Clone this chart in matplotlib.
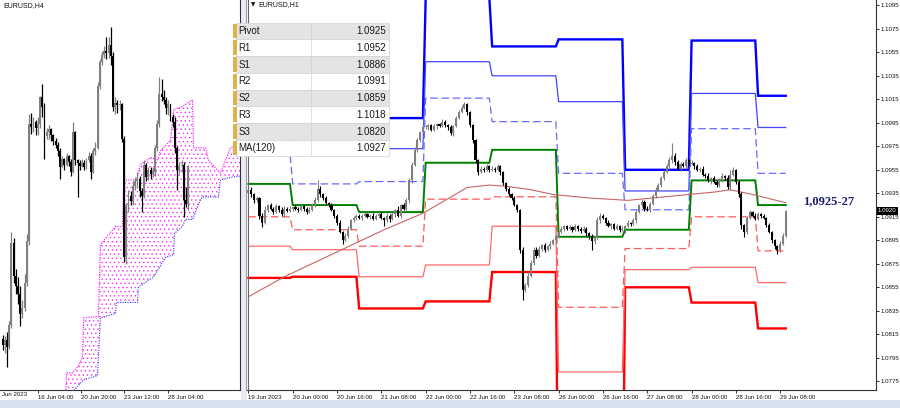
import numpy as np
import matplotlib
matplotlib.use("Agg")
import matplotlib.pyplot as plt
from matplotlib.patches import Rectangle, Polygon
from matplotlib import font_manager

W, H = 900, 408
_names = {f.name for f in font_manager.fontManager.ttflist}
NARROW = 'Liberation Sans Narrow' if 'Liberation Sans Narrow' in _names else 'Liberation Sans'

# ---------------- H4 panel (EURUSD,H4) ----------------
h4_open0 = 1.0790
h4_close = [1.0786, 1.0789, 1.0784, 1.0800, 1.0858, 1.0835, 1.0828, 1.0822, 1.0808, 1.0812,
            1.0830, 1.0860, 1.0943, 1.0941, 1.0944, 1.0940, 1.0943, 1.0962, 1.0955, 1.0934,
            1.0937, 1.0939, 1.0935, 1.0931, 1.0928, 1.0924, 1.0912, 1.0918, 1.0914, 1.0920,
            1.0916, 1.0909, 1.0937, 1.0917, 1.0915, 1.0913, 1.0915, 1.0912, 1.0917, 1.0920,
            1.0909, 1.0924, 1.0926, 1.0970, 1.0987, 1.0992, 1.0995, 1.0993, 1.0999, 1.0991,
            1.0955, 1.0958, 1.0956, 1.0957, 1.0932, 1.0848, 1.0885, 1.0892, 1.0888, 1.0899,
            1.0902, 1.0904, 1.0895, 1.0892, 1.0914, 1.0905, 1.0910, 1.0907, 1.0909, 1.0926,
            1.0943, 1.0964, 1.0962, 1.0960, 1.0954, 1.0957, 1.0948, 1.0944, 1.0926, 1.0910,
            1.0913, 1.0914, 1.0889, 1.0886, 1.0912]
h4_high = [1.0793, 1.0792, 1.0795, 1.0803, 1.0866, 1.0862, 1.0840, 1.0834, 1.0828, 1.0818,
           1.0836, 1.0865, 1.0950, 1.0951, 1.0948, 1.0946, 1.0948, 1.0963, 1.0971, 1.0958,
           1.0940, 1.0942, 1.0940, 1.0936, 1.0933, 1.0930, 1.0926, 1.0920, 1.0919, 1.0922,
           1.0921, 1.0918, 1.0944, 1.0938, 1.0918, 1.0917, 1.0918, 1.0917, 1.0919, 1.0923,
           1.0922, 1.0926, 1.0930, 1.0973, 1.0989, 1.0995, 1.0998, 1.1005, 1.1005, 1.1012,
           1.0994, 1.0962, 1.0960, 1.0960, 1.0958, 1.0934, 1.0887, 1.0896, 1.0895, 1.0902,
           1.0905, 1.0909, 1.0906, 1.0897, 1.0917, 1.0915, 1.0912, 1.0912, 1.0912, 1.0928,
           1.0946, 1.0976, 1.0975, 1.0967, 1.0962, 1.0960, 1.0957, 1.0950, 1.0948, 1.0927,
           1.0916, 1.0917, 1.0916, 1.0898, 1.0914]
h4_low = [1.0782, 1.0780, 1.0770, 1.0783, 1.0798, 1.0830, 1.0822, 1.0815, 1.0799, 1.0805,
          1.0810, 1.0828, 1.0857, 1.0936, 1.0937, 1.0935, 1.0935, 1.0940, 1.0948, 1.0918,
          1.0932, 1.0932, 1.0931, 1.0928, 1.0926, 1.0920, 1.0904, 1.0912, 1.0910, 1.0913,
          1.0913, 1.0906, 1.0908, 1.0914, 1.0891, 1.0910, 1.0912, 1.0910, 1.0911, 1.0916,
          1.0904, 1.0908, 1.0921, 1.0925, 1.0968, 1.0985, 1.0990, 1.0989, 1.0990, 1.0985,
          1.0952, 1.0950, 1.0951, 1.0953, 1.0930, 1.0845, 1.0843, 1.0880, 1.0885, 1.0885,
          1.0896, 1.0897, 1.0891, 1.0880, 1.0890, 1.0902, 1.0903, 1.0904, 1.0905, 1.0906,
          1.0924, 1.0941, 1.0959, 1.0957, 1.0950, 1.0949, 1.0945, 1.0941, 1.0922, 1.0896,
          1.0908, 1.0909, 1.0877, 1.0884, 1.0882]

# Ichimoku cloud edges (bar index, price)
span_a_bar = [28.5, 29.0, 31.7, 34.4, 36.2, 36.7, 43.4, 44.3, 51.1, 54.3, 54.8, 60.6, 62.4, 67.0,
              70.1, 71.5, 76.0, 77.4, 81.0, 86.0, 86.4, 91.9, 93.2, 97.3, 98.6, 103.2, 108.5]
span_a = [1.0747, 1.0766, 1.0766, 1.0771, 1.0777, 1.0805, 1.0806, 1.0857, 1.0870, 1.0870, 1.0903,
          1.0903, 1.0914, 1.0919, 1.0917, 1.0924, 1.0931, 1.0953, 1.0955, 1.0960, 1.0926, 1.0926,
          1.0917, 1.0910, 1.0908, 1.0926, 1.0929]
span_b_bar = [28.5, 36.7, 43.0, 44.3, 51.1, 51.6, 61.1, 61.5, 68.3, 73.8, 77.4, 77.8, 81.4, 82.8,
              86.0, 87.3, 89.6, 90.5, 97.7, 98.6, 103.2, 108.5]
span_b = [1.0747, 1.0761, 1.0764, 1.0805, 1.0808, 1.0816, 1.0816, 1.0827, 1.0834, 1.0848, 1.0850,
          1.0865, 1.0870, 1.0875, 1.0875, 1.0880, 1.0889, 1.0891, 1.0891, 1.0903, 1.0905, 1.0906]

h4_tick_labels = ['16 Jun 04:00', '20 Jun 20:00', '23 Jun 12:00', '28 Jun 04:00']

# ---------------- H1 panel (EURUSD,H1) ----------------
h1_open0 = 1.0935
h1_close = [
    # 19 Jun
    1.0938, 1.0934, 1.0929, 1.0931, 1.0916, 1.0910, 1.0921, 1.0925, 1.0922, 1.0919, 1.0924, 1.0921,
    1.0917, 1.0922, 1.0920, 1.0922,
    # 20 Jun
    1.0923, 1.0922, 1.0921, 1.0924, 1.0922, 1.0919, 1.0921, 1.0925, 1.0929, 1.0939, 1.0934, 1.0931,
    1.0927, 1.0925, 1.0921, 1.0916, 1.0910, 1.0902, 1.0895, 1.0899, 1.0905, 1.0912, 1.0914, 1.0916,
    # 21 Jun
    1.0914, 1.0916, 1.0917, 1.0915, 1.0916, 1.0913, 1.0916, 1.0917, 1.0914, 1.0912, 1.0916, 1.0913,
    1.0917, 1.0921, 1.0916, 1.0925, 1.0922, 1.0929, 1.0946, 1.0959, 1.0972, 1.0980, 1.0987, 1.0991,
    # 22 Jun
    1.0991, 1.0993, 1.0989, 1.0992, 1.0994, 1.0992, 1.0996, 1.0993, 1.0991, 1.0986, 1.0992, 1.0999,
    1.1004, 1.1008, 1.1011, 1.1004, 1.0993, 1.0980, 1.0963, 1.0953, 1.0956, 1.0955, 1.0958, 1.0955,
    # 23 Jun
    1.0956, 1.0955, 1.0958, 1.0953, 1.0944, 1.0939, 1.0934, 1.0931, 1.0925, 1.0921, 1.0887, 1.0853,
    1.0857, 1.0865, 1.0876, 1.0887, 1.0882, 1.0888, 1.0891, 1.0887, 1.0890, 1.0892, 1.0895, 1.0899,
    # 26 Jun
    1.0902, 1.0905, 1.0907, 1.0905, 1.0906, 1.0904, 1.0907, 1.0905, 1.0903, 1.0905, 1.0901, 1.0899,
    1.0894, 1.0897, 1.0912, 1.0916, 1.0914, 1.0910, 1.0907, 1.0909, 1.0905, 1.0907, 1.0904, 1.0905,
    # 27 Jun
    1.0907, 1.0910, 1.0909, 1.0912, 1.0919, 1.0925, 1.0928, 1.0922, 1.0921, 1.0926, 1.0933, 1.0938,
    1.0942, 1.0948, 1.0953, 1.0958, 1.0963, 1.0967, 1.0962, 1.0956, 1.0960, 1.0958, 1.0963, 1.0960,
    # 28 Jun
    1.0961, 1.0958, 1.0955, 1.0956, 1.0951, 1.0950, 1.0946, 1.0948, 1.0945, 1.0942, 1.0946, 1.0950,
    1.0948, 1.0940, 1.0951, 1.0955, 1.0945, 1.0934, 1.0908, 1.0902, 1.0914, 1.0919, 1.0916, 1.0913,
    # 29 Jun
    1.0917, 1.0916, 1.0914, 1.0908, 1.0902, 1.0895, 1.0890, 1.0887, 1.0892, 1.0899, 1.0920,
]
# wick lengths above / below the candle body, in pips
h1_up_wick = [3, 2, 1, 2, 1, 2, 3, 1, 2, 1, 2, 1, 2, 2, 1, 2,
              1, 2, 1, 2, 1, 1, 2, 2, 3, 7, 2, 1, 2, 1, 2, 1, 1, 2, 1, 2, 2, 1, 2, 1,
              1, 1, 2, 1, 1, 2, 1, 1, 2, 1, 2, 1, 2, 1, 3, 1, 2, 2, 2, 3, 2, 2, 1, 2,
              2, 1, 1, 2, 1, 1, 2, 1, 1, 2, 1, 2, 2, 2, 2, 1, 1, 1, 1, 1, 2, 1, 2, 1,
              2, 1, 2, 1, 1, 1, 1, 1, 2, 1, 1, 2, 2, 3, 2, 2, 2, 2, 1, 2, 1, 2, 1, 1,
              1, 2, 1, 1, 2, 1, 2, 1, 1, 2, 1, 1, 1, 2, 3, 2, 1, 1, 2, 1, 1, 2, 1, 2,
              1, 2, 1, 2, 2, 1, 2, 1, 2, 2, 1, 2, 2, 2, 2, 2, 3, 11, 2, 1, 2, 2, 2, 1,
              2, 1, 2, 1, 2, 1, 2, 1, 2, 1, 2, 2, 1, 3, 4, 2, 1, 1, 2, 1, 2, 2, 1, 2,
              2, 1, 1, 1, 2, 1, 1, 1, 2, 2, 1]
h1_dn_wick = [1, 2, 2, 1, 3, 4, 1, 2, 1, 2, 1, 2, 1, 2, 1, 1,
              2, 1, 2, 1, 2, 2, 1, 1, 2, 1, 2, 2, 1, 2, 1, 2, 2, 1, 3, 1, 2, 1, 1, 2,
              1, 2, 1, 1, 2, 1, 1, 2, 1, 5, 1, 2, 1, 2, 1, 2, 1, 2, 2, 2, 1, 2, 1, 1,
              1, 2, 1, 1, 2, 1, 1, 2, 2, 1, 2, 1, 1, 1, 1, 2, 2, 2, 2, 2, 1, 2, 1, 2,
              1, 2, 1, 2, 2, 2, 1, 2, 1, 2, 3, 9, 2, 2, 1, 2, 2, 1, 2, 2, 1, 2, 1, 2,
              2, 1, 2, 1, 1, 2, 1, 2, 2, 1, 2, 3, 7, 2, 1, 2, 1, 2, 1, 2, 1, 1, 2, 1,
              4, 1, 2, 1, 2, 1, 2, 2, 1, 2, 1, 2, 1, 2, 2, 1, 2, 2, 3, 1, 2, 1, 2, 2,
              1, 2, 1, 2, 1, 2, 1, 3, 1, 2, 2, 1, 2, 1, 2, 1, 2, 2, 3, 4, 2, 1, 1, 1,
              1, 2, 1, 2, 1, 2, 2, 4, 2, 1, 1]

# first bar of each trading day (19,20,21,22,23,26,27,28,29 Jun)
day_start = [0, 16, 40, 64, 88, 112, 136, 160, 184]
pivot = [1.0943, 1.0925, 1.0919, 1.0961, 1.0972, 1.0898, 1.0904, 1.0946, 1.0925]
r1 = [1.0970, 1.0943, 1.0945, 1.1016, 1.0996, 1.0952, 1.0921, 1.0990, 1.0952]
r2 = [1.0995, 1.0968, 1.0973, 1.1047, 1.1035, 1.1013, 1.0937, 1.1020, 1.0991]
r3 = [1.1019, 1.0982, 1.0999, 1.1101, 1.1060, 1.1066, 1.0955, 1.1065, 1.1018]
s1 = [1.0915, 1.0904, 1.0890, 1.0930, 1.0932, 1.0838, 1.0888, 1.0915, 1.0886]
s2 = [1.0890, 1.0887, 1.0864, 1.0874, 1.0907, 1.0783, 1.0870, 1.0872, 1.0859]
s3 = [1.0863, 1.0864, 1.0837, 1.0843, 1.0868, 1.0624, 1.0855, 1.0842, 1.0820]

ma_bar = [0, 13, 31, 49, 63, 71, 79, 87, 93, 102, 110, 123, 137, 159, 168, 174, 182, 194]
ma_val = [1.0847, 1.0864, 1.0884, 1.0904, 1.0918, 1.0929, 1.0940, 1.0942, 1.0941, 1.0938,
          1.0934, 1.0931, 1.0929, 1.0934, 1.0936, 1.0938, 1.0934, 1.0927]

h1_tick_labels = ['19 Jun 2023', '20 Jun 00:00', '20 Jun 16:00', '21 Jun 08:00', '22 Jun 00:00',
                  '22 Jun 16:00', '23 Jun 08:00', '26 Jun 00:00', '26 Jun 16:00', '27 Jun 08:00',
                  '28 Jun 00:00', '28 Jun 16:00', '29 Jun 08:00']
price_ticks = [1.0775, 1.0795, 1.0815, 1.0835, 1.0855, 1.0875, 1.0895, 1.0915, 1.0935,
               1.0955, 1.0975, 1.0995, 1.1015, 1.1035, 1.1055, 1.1075, 1.1095]
last_price = 1.0920

table_names = ['Pivot', 'R1', 'S1', 'R2', 'S2', 'R3', 'S3', 'MA(120)']
table_values = ['1.0925', '1.0952', '1.0886', '1.0991', '1.0859', '1.1018', '1.0820', '1.0927']
zone_label = '1,0925-27'

# ---------------- figure ----------------
fig = plt.figure(figsize=(W / 100, H / 100), dpi=100)
fig.patch.set_facecolor('white')


def rect(x0, y0, x1, y1, **kw):
    r = Rectangle((x0 / W, 1 - y1 / H), (x1 - x0) / W, (y1 - y0) / H,
                  transform=fig.transFigure, **kw)
    fig.add_artist(r)
    return r


def ftext(x, y, s, **kw):
    return fig.text(x / W, 1 - y / H, s, **kw)


BOT = 389.5
axL = fig.add_axes([0, 1 - BOT / H, 240 / W, BOT / H])
axR = fig.add_axes([247 / W, 1 - BOT / H, 629 / W, BOT / H])

for ax in (axL, axR):
    ax.set_facecolor('white')
    for sp in ('top', 'left'):
        ax.spines[sp].set_visible(False)
    for sp in ('bottom', 'right'):
        ax.spines[sp].set_color('#333333')
        ax.spines[sp].set_linewidth(0.8)


def draw_candles(ax, opens, highs, lows, closes, body_w, wick_lw, bull, bear):
    o = np.asarray(opens, float)
    c = np.asarray(closes, float)
    hi = np.maximum(np.asarray(highs, float), np.maximum(o, c))
    lo = np.minimum(np.asarray(lows, float), np.minimum(o, c))
    x = np.arange(len(c))
    cols = [bull if cc >= oo else bear for oo, cc in zip(o, c)]
    ax.vlines(x, lo, hi, colors=cols, linewidth=wick_lw, zorder=5)
    ax.bar(x, np.maximum(np.abs(c - o), 0.00005), body_w, bottom=np.minimum(o, c),
           color=cols, linewidth=0, zorder=6)


# ---- left panel ----
PXB_L = 2.21
axL.set_xlim(-2.5 / PXB_L, (240 - 2.5) / PXB_L)
axL.set_ylim(1.07541, 1.1031)
c4 = np.asarray(h4_close)
o4 = np.r_[h4_open0, c4[:-1]]
poly = np.column_stack([np.r_[span_a_bar, span_b_bar[::-1]], np.r_[span_a, span_b[::-1]]])
plt.rcParams['hatch.linewidth'] = 0.45
axL.add_patch(Polygon(poly, closed=True, facecolor='none', edgecolor='#FF22FF',
                      hatch='....', linewidth=0, zorder=1))
axL.plot(span_a_bar, span_a, color='#FF00FF', lw=0.8, ls=(0, (1, 1.2)), zorder=2)
axL.plot(span_b_bar, span_b, color='#3030FF', lw=0.8, ls=(0, (1, 1.2)), zorder=2)
draw_candles(axL, o4, h4_high, h4_low, c4, 0.85, 0.9, '#808080', '#000000')
axL.set_yticks([])
ltick_px = [37.7, 81.0, 124.3, 168.3]
axL.set_xticks([(p - 2.5) / PXB_L for p in ltick_px])
axL.set_xticklabels(h4_tick_labels, ha='left')
axL.tick_params(axis='x', direction='out', length=2.5, width=0.6, pad=1.2,
                labelsize=4.4, labelfontfamily=NARROW, colors='#111111')

# ---- right panel ----
PXB_R = 2.77
axR.set_xlim(-0.5, 629 / PXB_R - 0.5)
axR.set_ylim(1.10995 - BOT * 0.0000851, 1.10995)
n = len(h1_close)
c1 = np.asarray(h1_close)
o1 = np.r_[h1_open0, c1[:-1]]
hi1 = np.maximum(o1, c1) + np.asarray(h1_up_wick) * 1e-4
lo1 = np.minimum(o1, c1) - np.asarray(h1_dn_wick) * 1e-4
bars = np.arange(n)
day_idx = np.searchsorted(day_start, bars, side='right') - 1


def level_line(vals, color, lw, ls='-', z=3):
    axR.plot(bars, np.asarray(vals)[day_idx], color=color, lw=lw, ls=ls, zorder=z,
             solid_joinstyle='miter')


level_line(r3, '#0000FF', 1.7)
level_line(r2, '#4444FF', 0.9)
level_line(r1, '#6a6aff', 0.9, ls=(0, (6, 3)))
level_line(s3, '#FF0000', 1.7)
level_line(s2, '#FF6a6a', 0.9)
level_line(s1, '#FF5a5a', 0.9, ls=(0, (6, 3)))
level_line(pivot, '#008000', 1.4, z=4)
axR.plot(ma_bar, ma_val, color='#C86464', lw=0.8, zorder=4)
draw_candles(axR, o1, hi1, lo1, c1, 0.75, 0.8, '#808080', '#000000')

axR.set_xticks(np.arange(len(h1_tick_labels)) * 16)
axR.set_xticklabels(h1_tick_labels, ha='left')
axR.tick_params(axis='x', direction='out', length=2.5, width=0.6, pad=1.2,
                labelsize=4.4, labelfontfamily=NARROW, colors='#111111')
axR.yaxis.tick_right()
axR.set_yticks(price_ticks)
axR.set_yticklabels([f'{p:.4f}' for p in price_ticks])
axR.tick_params(axis='y', direction='out', length=2.0, width=0.6, pad=1.0,
                labelsize=4.4, labelfontfamily=NARROW, colors='#111111')

# ---- frame decorations ----
rect(240.5, 0, 247, 400, facecolor='#E9EDF3', edgecolor='none', zorder=0)
rect(0, 399.5, 900, 408, facecolor='#D6E2F0', edgecolor='none', zorder=0)
fig.add_artist(plt.Line2D([245.5 / W] * 2, [1, 1 - BOT / H], transform=fig.transFigure,
                          color='#9aa0a8', lw=0.8))
fig.add_artist(plt.Line2D([247.5 / W] * 2, [1, 1 - BOT / H], transform=fig.transFigure,
                          color='#6a6a6a', lw=0.8))

ftext(3, 6, 'EURUSD,H4', fontsize=5, family=NARROW, va='center', ha='left', color='#111111')
ftext(251, 5, '▼', fontsize=4, family='DejaVu Sans', va='center', ha='left', color='#111111')
ftext(258, 5, 'EURUSD,H1', fontsize=5, family=NARROW, va='center', ha='left', color='#111111')
ftext(2, 394.5, 'Jun 2023', fontsize=4.4, family=NARROW, va='center', ha='left', color='#111111')

# current price box
yp = (1.10995 - last_price) / 0.0000851
rect(877, yp - 3.8, 898, yp + 3.8, facecolor='black', edgecolor='none', zorder=20)
ftext(878, yp, f'{last_price:.4f}', fontsize=4.4, family=NARROW, va='center', ha='left',
      color='white', zorder=21)

# zone label
ftext(803, 201, zone_label, fontsize=9, family='Liberation Serif', weight='bold',
      va='center', ha='left', color='#1d1d6e')

# ---- indicator table ----
row_h = 16.7
top = 22.7
for i, (nm, val) in enumerate(zip(table_names, table_values)):
    y0 = top + i * row_h
    bg = '#E4E4E4' if i % 2 == 0 else '#FFFFFF'
    rect(236, y0, 389, y0 + row_h, facecolor=bg, edgecolor='#D2D2D2', lw=0.5, zorder=30)
    rect(233, y0 + 1, 236.5, y0 + row_h - 1, facecolor='#E2B24A', edgecolor='none', zorder=31)
    fig.add_artist(plt.Line2D([311 / W] * 2, [1 - y0 / H, 1 - (y0 + row_h) / H],
                              transform=fig.transFigure, color='#D2D2D2', lw=0.5, zorder=31))
    ftext(238.5, y0 + row_h / 2 + 0.3, nm, fontsize=7, family='Liberation Sans', va='center',
          ha='left', color='#1a1a1a', zorder=32)
    ftext(386, y0 + row_h / 2 + 0.3, val, fontsize=7, family='Liberation Sans', va='center',
          ha='right', color='#1a1a1a', zorder=32)

fig.savefig('out.png', dpi=100, facecolor=fig.get_facecolor())
